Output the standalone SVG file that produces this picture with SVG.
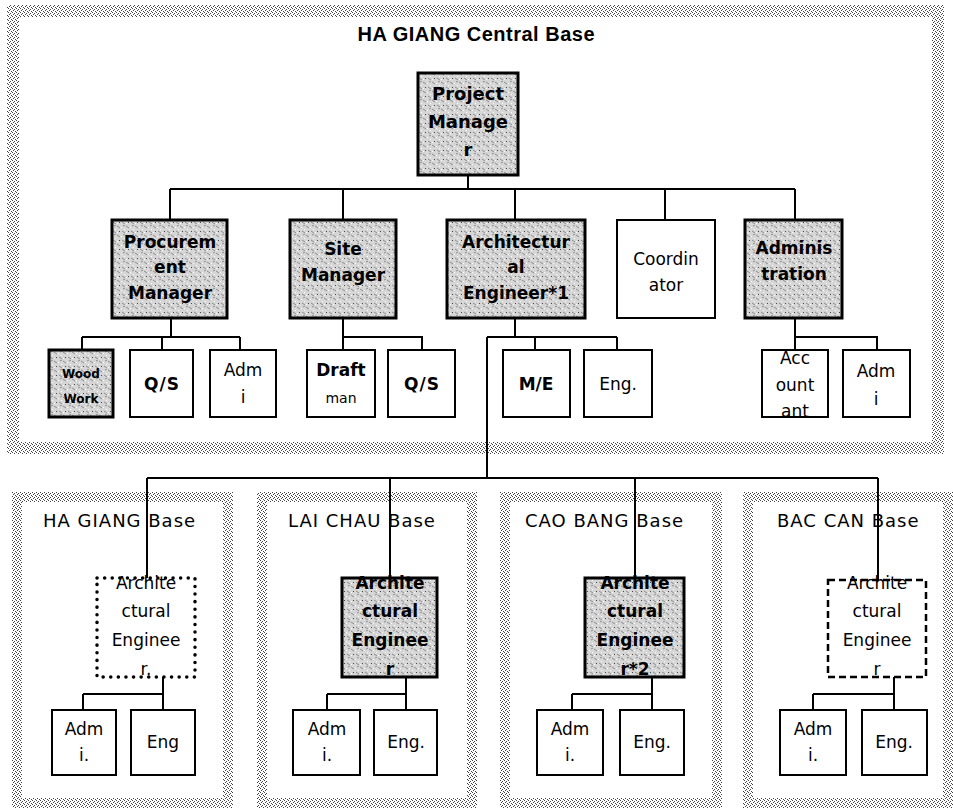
<svg xmlns="http://www.w3.org/2000/svg" width="953" height="808" viewBox="0 0 953 808">
<defs>
<pattern id="frame" width="4" height="4" patternUnits="userSpaceOnUse">
<rect width="4" height="4" fill="#fff"/>
<rect x="0" y="0" width="1" height="1" fill="#444"/>
<rect x="2" y="1" width="1" height="1" fill="#444"/>
<rect x="1" y="2" width="1" height="1" fill="#444"/>
<rect x="3" y="3" width="1" height="1" fill="#444"/>
</pattern>
<pattern id="speck" width="9" height="9" patternUnits="userSpaceOnUse">
<rect width="9" height="9" fill="#d6d6d6"/>
<path d="M0,1 L3,3 M5,6 L8,8 M6,1 L8,0" stroke="#777" stroke-width="0.8"/>
<rect x="2" y="6" width="1" height="1" fill="#444"/>
<rect x="7" y="4" width="1" height="1" fill="#fff"/>
<rect x="4" y="2" width="1" height="1" fill="#fff"/>
<rect x="0" y="7" width="1" height="1" fill="#fff"/>
</pattern>
<style>
.fr{fill:none;stroke:url(#frame)}
.hb{fill:url(#speck);stroke:#000;stroke-width:3}
.wb{fill:#fff;stroke:#000;stroke-width:2}
.dot{fill:#fff;stroke:#000;stroke-width:3.5;stroke-dasharray:0.1 7.5;stroke-linecap:round}
.dash{fill:#fff;stroke:#000;stroke-width:2.5;stroke-dasharray:7 4}
text{font-family:"DejaVu Sans","Liberation Sans",sans-serif;fill:#000;text-anchor:middle}
.b{font-weight:bold;font-size:17px}
.r{font-size:17px}
.t{font-size:18px;text-anchor:start;letter-spacing:1px}
.s{font-weight:bold;font-size:12px}
.c path{stroke:#000;stroke-width:2;fill:none}
</style>
</defs>
<rect width="953" height="808" fill="#fff"/>

<g id="central-base">
<rect class="fr" x="13" y="11" width="925" height="437" stroke-width="12"/>
<text x="476" y="41" style="font-family:'Liberation Sans',Arial,sans-serif;font-size:20px;font-weight:bold" textLength="237">HA GIANG Central Base</text>
</g>
<g id="ha-giang-base">
<rect class="fr" x="17" y="497" width="211" height="306" stroke-width="10"/>
<text class="t" x="43" y="527">HA GIANG Base</text>
</g>
<g id="lai-chau-base">
<rect class="fr" x="262" y="497" width="210" height="306" stroke-width="10"/>
<text class="t" x="288" y="527">LAI CHAU Base</text>
</g>
<g id="cao-bang-base">
<rect class="fr" x="505" y="497" width="212" height="306" stroke-width="10"/>
<text class="t" x="525" y="527">CAO BANG Base</text>
</g>
<g id="bac-can-base">
<rect class="fr" x="748" y="497" width="200" height="306" stroke-width="10"/>
<text class="t" x="777" y="527">BAC CAN Base</text>
</g>

<g id="connectors" class="c">
<path d="M468,175 V189 M170,189 H795 M170,189 V220 M343,189 V220 M515,189 V220 M665,189 V220 M795,189 V220"/>
<path d="M171,318 V337 M82,337 H240 M82,337 V350 M162,337 V350 M240,337 V350"/>
<path d="M343,318 V350 M343,337 H422 V350"/>
<path d="M515,318 V337 M487,337 H617 M535,337 V350 M617,337 V350 M487,337 V478"/>
<path d="M795,318 V350 M795,337 H877 V350"/>
<path d="M147,478 H878 M147,478 V578 M390,478 V578 M635,478 V578 M878,478 V580"/>
<path d="M163,677 V710 M83,694 H163 M83,694 V710"/>
<path d="M406,677 V710 M327,694 H406 M327,694 V710"/>
<path d="M652,677 V710 M572,694 H652 M572,694 V710"/>
<path d="M894,677 V710 M813,694 H894 M813,694 V710"/>
</g>

<g id="project-manager">
<rect class="hb" x="418" y="73" width="100" height="102"/>
<text class="b" x="468" y="100" style="font-size:18px">Project</text>
<text class="b" x="468" y="128" style="font-size:18px">Manage</text>
<text class="b" x="468" y="156" style="font-size:18px">r</text>
</g>

<g id="procurement-manager">
<rect class="hb" x="112" y="220" width="115" height="98"/>
<text class="b" x="170" y="248">Procurem</text>
<text class="b" x="170" y="273">ent</text>
<text class="b" x="170" y="299">Manager</text>
</g>
<g id="site-manager">
<rect class="hb" x="290" y="220" width="106" height="98"/>
<text class="b" x="343" y="255">Site</text>
<text class="b" x="343" y="281">Manager</text>
</g>
<g id="architectural-engineer-1">
<rect class="hb" x="447" y="220" width="138" height="98"/>
<text class="b" x="516" y="248">Architectur</text>
<text class="b" x="516" y="273">al</text>
<text class="b" x="516" y="299">Engineer*1</text>
</g>
<g id="coordinator">
<rect class="wb" x="617" y="220" width="98" height="98"/>
<text class="r" x="666" y="265">Coordin</text>
<text class="r" x="666" y="291">ator</text>
</g>
<g id="administration">
<rect class="hb" x="745" y="220" width="97" height="98"/>
<text class="b" x="794" y="254">Adminis</text>
<text class="b" x="794" y="280">tration</text>
</g>

<g id="wood-work">
<rect class="hb" x="49" y="350" width="64" height="67"/>
<text class="s" x="81" y="378">Wood</text>
<text class="s" x="81" y="403">Work</text>
</g>
<g id="qs-1">
<rect class="wb" x="130" y="350" width="63" height="67"/>
<text class="b" x="162" y="390" style="font-weight:600;letter-spacing:1px">Q/S</text>
</g>
<g id="admi-1">
<rect class="wb" x="210" y="350" width="66" height="67"/>
<text class="r" x="243" y="376">Adm</text>
<text class="r" x="243" y="403">i</text>
</g>
<g id="draftman">
<rect class="wb" x="307" y="350" width="68" height="67"/>
<text class="r" x="341" y="376" style="font-weight:600">Draft</text>
<text class="r" x="341" y="403" style="font-size:14px">man</text>
</g>
<g id="qs-2">
<rect class="wb" x="388" y="350" width="67" height="67"/>
<text class="b" x="422" y="390" style="font-weight:600;letter-spacing:1px">Q/S</text>
</g>
<g id="me">
<rect class="wb" x="503" y="350" width="67" height="67"/>
<text class="b" x="536" y="390" style="font-weight:600">M/E</text>
</g>
<g id="eng-1">
<rect class="wb" x="584" y="350" width="68" height="67"/>
<text class="r" x="618" y="390">Eng.</text>
</g>
<g id="accountant">
<rect class="wb" x="762" y="350" width="66" height="67"/>
<text class="r" x="795" y="364">Acc</text>
<text class="r" x="795" y="391">ount</text>
<text class="r" x="795" y="417">ant</text>
</g>
<g id="admi-2">
<rect class="wb" x="843" y="350" width="67" height="67"/>
<text class="r" x="876" y="377">Adm</text>
<text class="r" x="876" y="405">i</text>
</g>

<g id="ae-ha-giang">
<rect class="dot" x="97" y="578" width="98" height="99"/>
<text class="r" x="146" y="589">Archite</text>
<text class="r" x="146" y="617">ctural</text>
<text class="r" x="146" y="646">Enginee</text>
<text class="r" x="146" y="675">r.</text>
</g>
<g id="adm-ha-giang">
<rect class="wb" x="52" y="710" width="64" height="65"/>
<text class="r" x="84" y="735">Adm</text>
<text class="r" x="84" y="761">i.</text>
</g>
<g id="eng-ha-giang">
<rect class="wb" x="131" y="710" width="64" height="65"/>
<text class="r" x="163" y="748">Eng</text>
</g>

<g id="ae-lai-chau">
<rect class="hb" x="342" y="578" width="95" height="99"/>
<text class="b" x="390" y="589">Archite</text>
<text class="b" x="390" y="617">ctural</text>
<text class="b" x="390" y="646">Enginee</text>
<text class="b" x="390" y="675">r</text>
</g>
<g id="adm-lai-chau">
<rect class="wb" x="293" y="710" width="67" height="65"/>
<text class="r" x="327" y="735">Adm</text>
<text class="r" x="327" y="761">i.</text>
</g>
<g id="eng-lai-chau">
<rect class="wb" x="374" y="710" width="63" height="65"/>
<text class="r" x="406" y="748">Eng.</text>
</g>

<g id="ae-cao-bang">
<rect class="hb" x="585" y="578" width="99" height="99"/>
<text class="b" x="635" y="589">Archite</text>
<text class="b" x="635" y="617">ctural</text>
<text class="b" x="635" y="646">Enginee</text>
<text class="b" x="635" y="675">r*2</text>
</g>
<g id="adm-cao-bang">
<rect class="wb" x="537" y="710" width="66" height="65"/>
<text class="r" x="570" y="735">Adm</text>
<text class="r" x="570" y="761">i.</text>
</g>
<g id="eng-cao-bang">
<rect class="wb" x="620" y="710" width="64" height="65"/>
<text class="r" x="652" y="748">Eng.</text>
</g>

<g id="ae-bac-can">
<rect class="dash" x="828" y="580" width="98" height="97"/>
<text class="r" x="877" y="589">Archite</text>
<text class="r" x="877" y="617">ctural</text>
<text class="r" x="877" y="646">Enginee</text>
<text class="r" x="877" y="675">r</text>
</g>
<g id="adm-bac-can">
<rect class="wb" x="780" y="710" width="66" height="65"/>
<text class="r" x="813" y="735">Adm</text>
<text class="r" x="813" y="761">i.</text>
</g>
<g id="eng-bac-can">
<rect class="wb" x="862" y="710" width="65" height="65"/>
<text class="r" x="894" y="748">Eng.</text>
</g>
</svg>
